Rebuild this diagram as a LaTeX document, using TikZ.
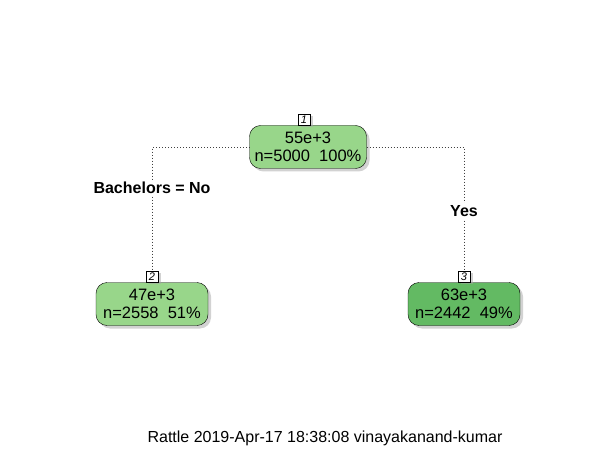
\documentclass[tikz,border=0pt]{standalone}
\usepackage{fontspec}
\setmainfont{Liberation Sans}
\usetikzlibrary{shadows}
\definecolor{lightgreen}{RGB}{152,214,138}
\definecolor{darkgreen}{RGB}{99,186,99}
\tikzset{
  leaf/.style={draw, rounded corners=11pt, minimum width=112pt, minimum height=43pt,
    align=center, inner sep=1pt, font=\fontsize{16.5}{18.5}\selectfont,
    drop shadow={shadow xshift=3pt, shadow yshift=-3pt, fill=gray!70}},
  tag/.style={draw, fill=white, minimum width=12pt, minimum height=11pt, inner sep=0pt,
    font=\fontsize{11}{11}\selectfont\itshape,
    drop shadow={shadow xshift=3pt, shadow yshift=-2pt, fill=gray!70}},
  split/.style={fill=white, inner sep=2pt, font=\fontsize{16}{18}\selectfont\bfseries},
  branch/.style={dash pattern=on 0.8pt off 2.2pt, line width=0.8pt, black!75}
}
\begin{document}
\begin{tikzpicture}[x=1pt, y=-1pt]
        \useasboundingbox (0,0) rectangle (613,449);
        \node[leaf, fill=lightgreen, minimum width=117pt] (root) at (308,147) {55e+3\\n=5000\ \ 100\%};
        \node[tag, anchor=south] (tag1) at (304,125) {1};
        \node[leaf, fill=lightgreen] (left) at (152,304) {47e+3\\n=2558\ \ 51\%};
        \node[tag, anchor=south] (tag2) at (152,282) {2};
        \node[leaf, fill=darkgreen] (right) at (464,304) {63e+3\\n=2442\ \ 49\%};
        \node[tag, anchor=south] (tag3) at (464,282) {3};
        % branches
        \draw[branch] (root.west) -| (tag2.north);
        \draw[branch] (root.east) -| (tag3.north);
        \node[split] (splitL) at (152,188) {Bachelors = No};
        \node[split] (splitR) at (464,211) {Yes};
        \node[font=\fontsize{16}{18}\selectfont] (footer) at (325,438) {Rattle 2019-Apr-17 18:38:08 vinayakanand-kumar};
    \end{tikzpicture}
\end{document}
